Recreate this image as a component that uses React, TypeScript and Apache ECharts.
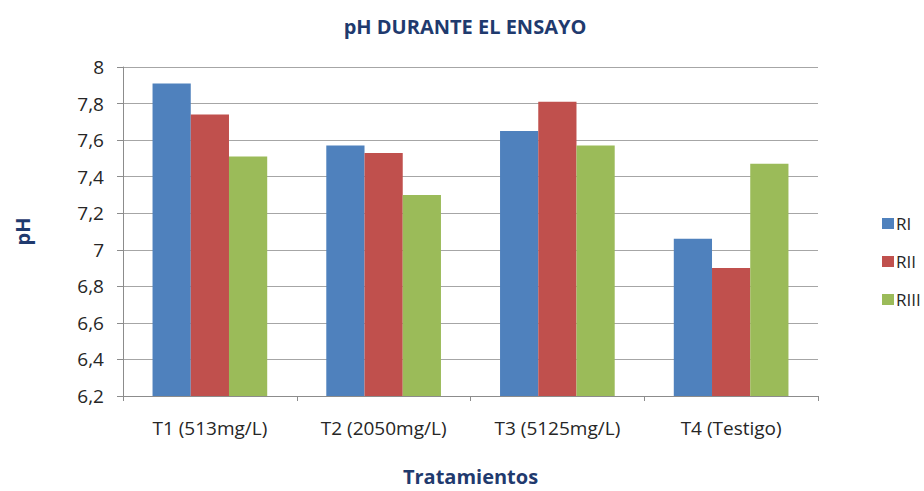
import React, { useEffect, useRef } from "react";
import * as echarts from "echarts";

const categories = ["T1 (513mg/L)", "T2 (2050mg/L)", "T3 (5125mg/L)", "T4 (Testigo)"];
const seriesNames = ["RI", "RII", "RIII"];
const valuesRI = [7.91, 7.57, 7.65, 7.06];
const valuesRII = [7.74, 7.53, 7.81, 6.9];
const valuesRIII = [7.51, 7.3, 7.57, 7.47];
const colors = ["#4F81BD", "#C0504D", "#9BBB59"];

const FONT = "'Open Sans', Lato, sans-serif";
const NAVY = "#1F3A6E";

export default function App() {
  const ref = useRef<HTMLDivElement>(null);
  useEffect(() => {
    if (!ref.current) return;
    const chart = echarts.init(ref.current, null, { renderer: "svg" });
    const data = [valuesRI, valuesRII, valuesRIII];
    chart.setOption({
      animation: false,
      backgroundColor: "#ffffff",
      textStyle: { fontFamily: FONT },
      title: {
        text: "pH DURANTE EL ENSAYO",
        left: 460,
        textAlign: "center",
        top: 11,
        textStyle: { fontFamily: FONT, fontSize: 20, fontWeight: "bold", color: NAVY },
      },
      grid: { left: 123, width: 695, top: 67, height: 337, containLabel: false },
      legend: {
        orient: "vertical",
        left: 877,
        top: 210,
        itemWidth: 12,
        itemHeight: 11,
        itemGap: 21,
        icon: "rect",
        data: seriesNames,
        textStyle: { fontFamily: FONT, fontSize: 17, color: "#262626", lineHeight: 17, padding: [0, 0, 0, -3] },
      },
      xAxis: {
        type: "category",
        data: categories,
        name: "Tratamientos",
        nameLocation: "middle",
        nameGap: 70,
        nameTextStyle: { fontFamily: FONT, fontSize: 20, fontWeight: "bold", color: NAVY },
        axisLine: { lineStyle: { color: "#8C8C8C" } },
        axisTick: { show: true, length: 5, lineStyle: { color: "#8C8C8C" } },
        axisLabel: { fontFamily: FONT, fontSize: 19, color: "#262626", margin: 22 },
      },
      yAxis: {
        type: "value",
        min: 6.2,
        max: 8,
        interval: 0.2,
        name: "pH",
        nameLocation: "middle",
        nameGap: 91,
        nameRotate: 90,
        nameTextStyle: { fontFamily: FONT, fontSize: 20, fontWeight: "bold", color: NAVY },
        axisLine: { show: true, lineStyle: { color: "#8C8C8C" } },
        axisTick: { show: true, length: 6, lineStyle: { color: "#8C8C8C" } },
        splitLine: { show: true, lineStyle: { color: "#A6A6A6" } },
        axisLabel: {
          fontFamily: FONT,
          fontSize: 19,
          color: "#262626",
          margin: 19,
          formatter: (v: number) => String(Math.round(v * 10) / 10).replace(".", ","),
        },
      },
      series: seriesNames.map((n, i) => ({
        name: n,
        type: "bar",
        data: data[i],
        itemStyle: { color: colors[i] },
        barGap: "0%",
        barCategoryGap: "34%",
      })),
    });
    return () => chart.dispose();
  }, []);
  return <div ref={ref} style={{ width: 924, height: 491, position: "fixed", left: 0, top: 0 }} />;
}
